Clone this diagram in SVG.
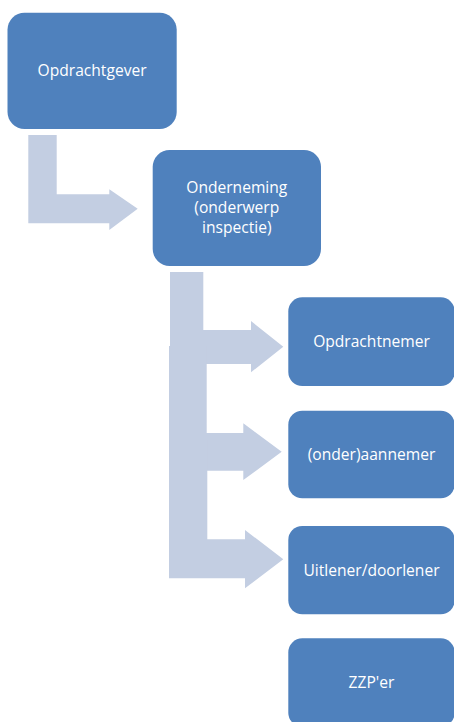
<svg xmlns="http://www.w3.org/2000/svg" width="454" height="722" viewBox="0 0 454 722">
  <style>
    .box { fill: #4F81BD; }
    .arrow { fill: #C3CEE2; }
    .label { fill: #FFFFFF; font-family: "Open Sans", "Liberation Sans", sans-serif; font-size: 15.6px; text-anchor: middle; }
  </style>
  <rect width="454" height="722" fill="#FFFFFF"/>
  <g id="connectors">
    <polygon class="arrow" points="28.3,135 56.7,135 56.7,194.3 109.3,194.3 109.3,189.3 137.7,208.8 109.3,230 109.3,223.3 28.3,223.3"/>
    <polygon class="arrow" points="170,272 203.3,272 203.3,330 251,330 251,321 283.3,346.7 251,372.3 251,364 170,364"/>
    <polygon class="arrow" points="169,346 206.7,346 206.7,433 243.3,433 243.3,423.3 281.7,451.8 243.3,480 243.3,470.7 169,470.7"/>
    <polygon class="arrow" points="169,440 207.3,440 207.3,539.3 245,539.3 245,530 283.3,559.2 245,588.3 245,578.3 169,578.3"/>
  </g>
  <g id="node-opdrachtgever">
    <rect class="box" x="7.5" y="12.7" width="169.2" height="116.3" rx="17" ry="17"/>
    <text class="label" x="92.1" y="76.3">Opdrachtgever</text>
  </g>
  <g id="node-onderneming">
    <rect class="box" x="152.7" y="150" width="168.3" height="116" rx="17" ry="17"/>
    <text class="label" x="236.8" y="193.3">Onderneming</text>
    <text class="label" x="236.8" y="213.3">(onderwerp</text>
    <text class="label" x="236.8" y="233.3">inspectie)</text>
  </g>
  <g id="node-opdrachtnemer">
    <rect class="box" x="288.3" y="297.3" width="166.4" height="88.7" rx="14" ry="14"/>
    <text class="label" x="371.5" y="347.2">Opdrachtnemer</text>
  </g>
  <g id="node-onderaannemer">
    <rect class="box" x="288.3" y="410.7" width="166.4" height="87.6" rx="14" ry="14"/>
    <text class="label" x="371.5" y="460">(onder)aannemer</text>
  </g>
  <g id="node-uitlener">
    <rect class="box" x="288.3" y="526" width="166.4" height="88.3" rx="14" ry="14"/>
    <text class="label" x="371.5" y="575.7">Uitlener/doorlener</text>
  </g>
  <g id="node-zzper">
    <rect class="box" x="288.3" y="638.3" width="166.4" height="88.4" rx="14" ry="14"/>
    <text class="label" x="371.5" y="688.2">ZZP'er</text>
  </g>
</svg>
